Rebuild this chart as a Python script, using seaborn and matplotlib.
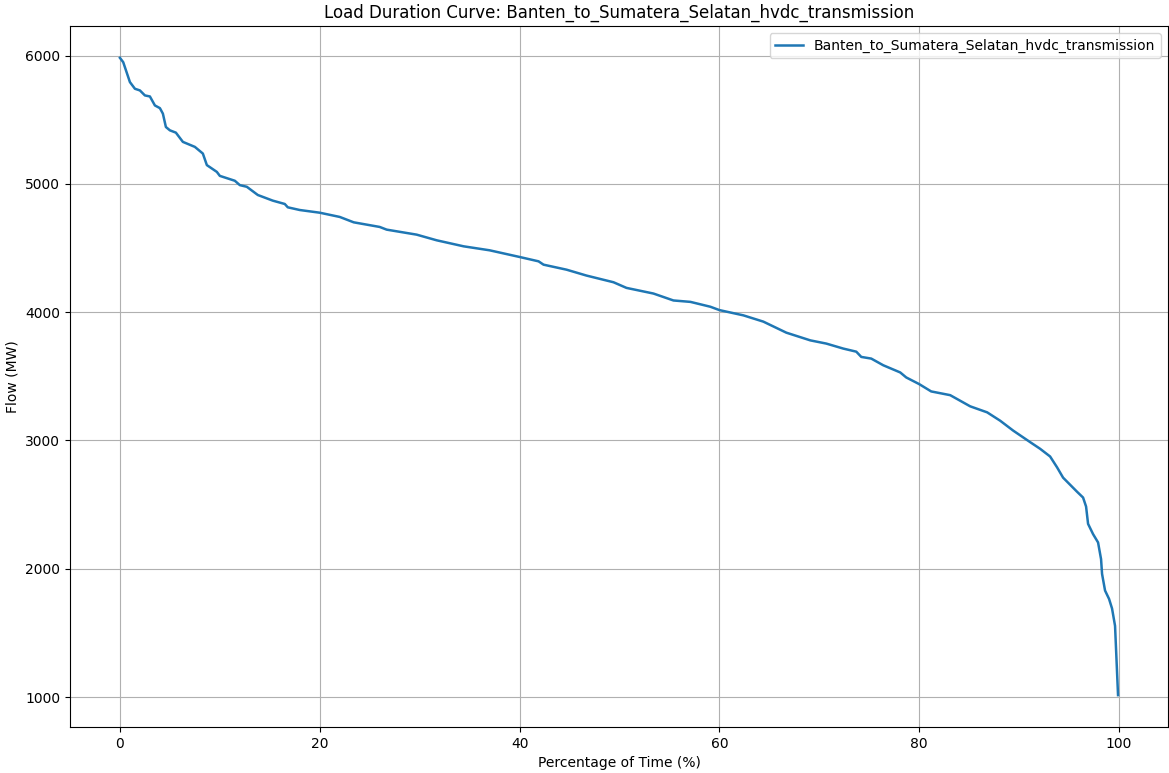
import matplotlib
matplotlib.use("Agg")
import matplotlib.pyplot as plt
import seaborn as sns
import pandas as pd

series_name = "Banten_to_Sumatera_Selatan_hvdc_transmission"

percent_time = [
    0.0, 0.33, 1.0, 1.5, 2.0, 2.5, 3.0, 3.5, 4.0, 4.3, 4.6, 5.0, 5.6, 6.3, 7.5,
    8.3, 8.7, 9.7, 10.0, 11.5, 12.0, 12.7, 13.8, 15.3, 16.5, 16.8, 18.0, 20.0,
    22.0, 23.4, 26.0, 26.7, 29.7, 31.7, 34.4, 37.0, 40.0, 41.9, 42.4, 44.7,
    46.7, 49.4, 50.7, 53.4, 55.4, 57.1, 59.1, 60.0, 62.4, 64.4, 66.7, 69.1,
    70.7, 72.4, 73.7, 74.2, 75.2, 76.4, 78.1, 78.7, 80.0, 81.2, 83.1, 85.1,
    86.8, 88.1, 89.4, 91.1, 92.1, 93.1, 93.8, 94.4, 95.8, 96.4, 96.7, 96.9,
    97.4, 97.9, 98.2, 98.3, 98.6, 99.0, 99.3, 99.6, 99.9,
]
flow_mw = [
    5982, 5948, 5793, 5741, 5728, 5689, 5681, 5611, 5590, 5547, 5443, 5417,
    5399, 5327, 5288, 5236, 5146, 5093, 5062, 5024, 4990, 4977, 4913, 4869,
    4843, 4817, 4796, 4775, 4742, 4700, 4664, 4643, 4604, 4560, 4513, 4482,
    4430, 4396, 4370, 4331, 4285, 4233, 4189, 4145, 4091, 4080, 4042, 4016,
    3975, 3926, 3840, 3780, 3755, 3716, 3692, 3651, 3638, 3586, 3530, 3491,
    3439, 3382, 3353, 3266, 3219, 3154, 3077, 2987, 2935, 2875, 2790, 2710,
    2600, 2555, 2485, 2350, 2270, 2205, 2075, 1960, 1830, 1765, 1690, 1555,
    1015,
]

df = pd.DataFrame({"Percentage of Time (%)": percent_time,
                   "Flow (MW)": flow_mw,
                   "Line": series_name})

fig = plt.figure(figsize=(11.69, 7.73), dpi=100)
ax = fig.add_axes([0.0599, 0.0595, 0.9392, 0.9069])
sns.lineplot(data=df, x="Percentage of Time (%)", y="Flow (MW)",
             label=series_name, color="#1f77b4", linewidth=1.8, ax=ax,
             sort=False, estimator=None)
ax.set_title(f"Load Duration Curve: {series_name}", fontsize=12)
ax.set_xlabel("Percentage of Time (%)")
ax.set_ylabel("Flow (MW)")
ax.grid(True)
ax.legend(loc="upper right")
fig.savefig("out.png", dpi=100)
